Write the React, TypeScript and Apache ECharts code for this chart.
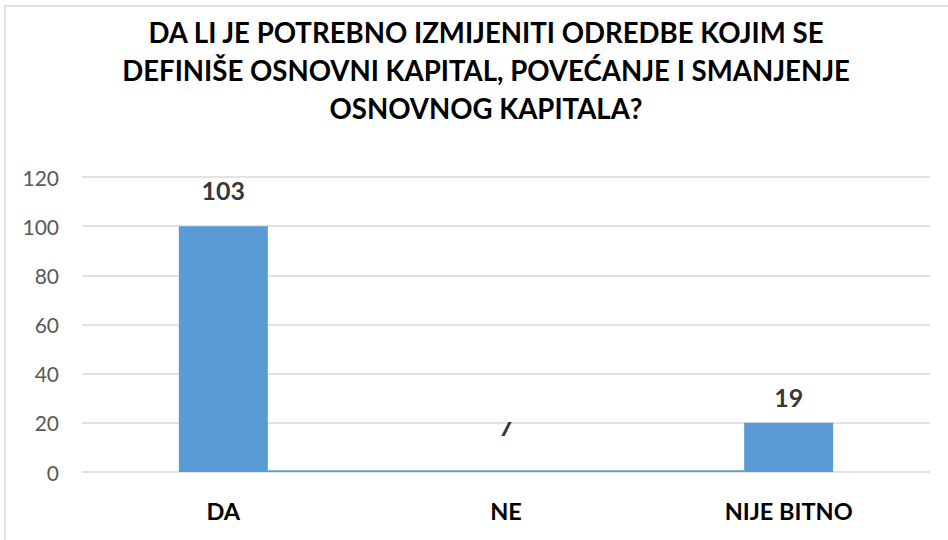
import React, { useEffect, useRef } from "react";
import * as echarts from "echarts";

const categories = ["DA", "NE", "NIJE BITNO"];
// bar heights as drawn in the picture
const barHeights = [100, null, 20];
// the NE mark is drawn as a thin, very wide sliver at the baseline
const neSliver = [null, 0.7, null];
// data labels (survey counts)
const labelValues = [103, 7, 19];
const yTicks = { min: 0, max: 120, interval: 20 };
const titleText =
  "DA LI JE POTREBNO IZMIJENITI ODREDBE KOJIM SE\nDEFINIŠE OSNOVNI KAPITAL, POVEĆANJE I SMANJENJE\nOSNOVNOG KAPITALA?";

const FONT = "Lato, 'Open Sans', sans-serif";

export default function App() {
  const ref = useRef<HTMLDivElement>(null);
  useEffect(() => {
    if (!ref.current) return;
    const chart = echarts.init(ref.current, null, { renderer: "svg" });
    const border = {
      type: "rect",
      shape: { x: 5, y: 6, width: 1000, height: 1000 },
      style: { fill: "none", stroke: "#d9d9d9", lineWidth: 1.5 },
      silent: true,
    };
    const option: any = {
      animation: false,
      backgroundColor: "#ffffff",
      title: {
        text: titleText,
        left: 481,
        top: 8,
        textAlign: "center",
        textStyle: {
          fontFamily: FONT,
          fontWeight: "bold",
          fontSize: 27.6,
          lineHeight: 38,
          color: "#000000",
        },
      },
      grid: { left: 82, right: 18, top: 177, bottom: 68, containLabel: false },
      xAxis: [
        {
          type: "category",
          data: categories,
          axisLine: { show: false },
          axisTick: { show: false },
          axisLabel: {
            fontFamily: FONT,
            fontWeight: "bold",
            fontSize: 23.5,
            color: "#000000",
            margin: 27,
          },
        },
        {
          type: "category",
          data: categories,
          show: false,
        },
      ],
      yAxis: {
        type: "value",
        min: yTicks.min,
        max: yTicks.max,
        interval: yTicks.interval,
        axisLine: { show: false },
        axisTick: { show: false },
        splitLine: { lineStyle: { color: "#d9d9d9", width: 1.5 } },
        axisLabel: {
          fontFamily: FONT,
          fontSize: 21,
          color: "#595959",
          margin: 23,
        },
      },
      series: [
        {
          type: "bar",
          xAxisIndex: 0,
          data: barHeights,
          barWidth: 89,
          itemStyle: { color: "#5b9bd5" },
          z: 3,
        },
        {
          type: "bar",
          xAxisIndex: 1,
          data: neSliver,
          barWidth: 476,
          itemStyle: { color: "#5b9bd5" },
          z: 3,
        },
        {
          type: "scatter",
          xAxisIndex: 0,
          data: labelValues,
          symbolSize: 0,
          itemStyle: { color: "rgba(0,0,0,0)" },
          label: {
            show: true,
            position: "top",
            distance: 16,
            fontFamily: FONT,
            fontWeight: "bold",
            fontSize: 25,
            color: "#000000",
          },
          z: 4,
        },
      ],
      graphic: [border],
    };
    chart.setOption(option);
    // mask the top of the clipped "7" label, as in the picture
    const y20 = chart.convertToPixel({ yAxisIndex: 0 }, 20) as number;
    const xNE = chart.convertToPixel({ xAxisIndex: 0 }, "NE") as number;
    chart.setOption({
      graphic: [
        border,
        {
          type: "rect",
          shape: { x: xNE - 20, y: y20 - 30, width: 40, height: 29.2 },
          style: { fill: "#ffffff" },
          z: 100,
          silent: true,
        },
      ],
    });
    return () => chart.dispose();
  }, []);
  return (
    <div
      ref={ref}
      style={{ position: "absolute", left: 0, top: 0, width: 948, height: 540 }}
    />
  );
}
